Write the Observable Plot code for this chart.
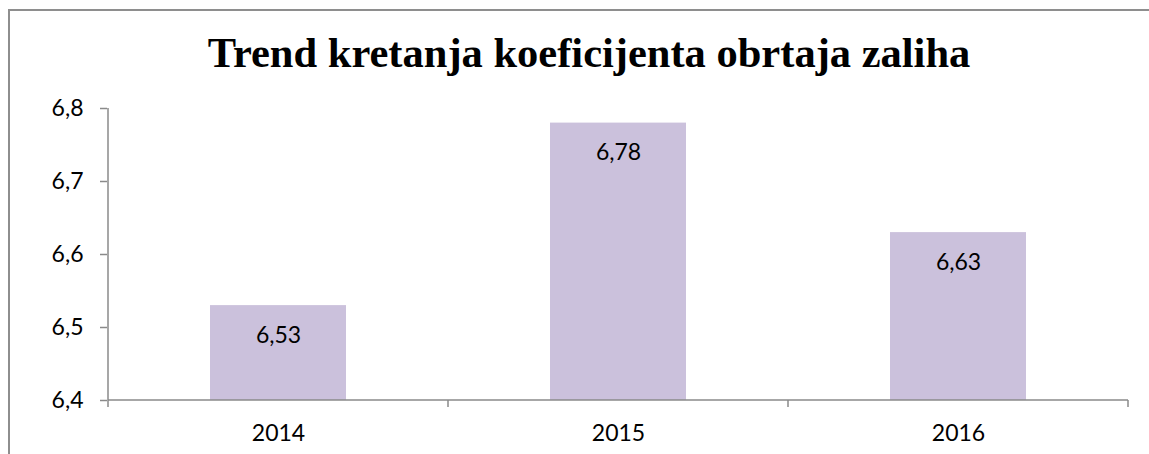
<!DOCTYPE html>
<html>
<head>
<meta charset="utf-8">
<script src="https://cdn.jsdelivr.net/npm/d3@7"></script>
<script src="https://cdn.jsdelivr.net/npm/@observablehq/plot@0.6"></script>
<style>
  html, body { margin: 0; padding: 0; background: #fff; width: 1149px; height: 454px; overflow: hidden; }
  #wrap { position: relative; width: 1149px; height: 454px; }
  #border { position: absolute; left: 8px; top: 9px; width: 1200px; height: 500px; border: 2px solid #8e8e8e; box-sizing: border-box; }
  #title { position: absolute; left: 0; width: 1178px; top: 32px; text-align: center; font-family: "Liberation Serif", "Times New Roman", serif; font-weight: bold; font-size: 42.5px; line-height: 1; color: #000; white-space: nowrap; }
  #chart { position: absolute; left: 0; top: 0; }
</style>
</head>
<body>
<div id="wrap">
  <div id="border"></div>
  <div id="chart"></div>
  <div id="title">Trend kretanja koeficijenta obrtaja zaliha</div>
</div>
<script>
const years = ["2014", "2015", "2016"];
const values = [6.53, 6.78, 6.63];
const yTicks = [6.4, 6.5, 6.6, 6.7, 6.8];
const yDomain = [6.4, 6.8];

const data = years.map((year, i) => ({year, value: values[i]}));
const fmt = v => d3.format(".2~f")(v).replace(".", ",");
const AXIS = "#8a8a8a";
const PAD_INNER = 0.6;

function axisLines(index, scales) {
  const x = scales.x, y = scales.y;
  const step = x(years[1]) - x(years[0]);
  const bw = typeof x.bandwidth === "function" ? x.bandwidth() : step * (1 - PAD_INNER);
  const start = x(years[0]) + bw / 2 - step / 2;
  const y0 = y(yDomain[0]), y1 = y(yDomain[1]);
  const g = d3.create("svg:g").attr("stroke", AXIS).attr("stroke-width", 1.5).attr("fill", "none");
  // y axis line
  g.append("line").attr("x1", start).attr("x2", start).attr("y1", y1).attr("y2", y0 + 7);
  // x axis line
  g.append("line").attr("x1", start).attr("x2", start + step * years.length).attr("y1", y0).attr("y2", y0);
  // category boundary ticks
  for (let i = 1; i <= years.length; ++i) {
    const bx = start + i * step;
    g.append("line").attr("x1", bx).attr("x2", bx).attr("y1", y0).attr("y2", y0 + 7);
  }
  return g.node();
}

const chart = Plot.plot({
  width: 1149,
  height: 454,
  marginLeft: 107,
  marginRight: 21,
  marginTop: 108,
  marginBottom: 54,
  style: {fontFamily: "Lato, 'Open Sans', sans-serif", fontSize: "23px", color: "#000", background: "transparent"},
  x: {domain: years, paddingInner: PAD_INNER, paddingOuter: 0.3, label: null},
  y: {domain: yDomain, label: null},
  marks: [
    Plot.barY(data, {x: "year", y1: yDomain[0], y2: "value", fill: "#CBC1DC"}),
    Plot.text(data, {x: "year", y: "value", text: d => fmt(d.value), dy: 30, lineAnchor: "middle", fontSize: 23, fill: "#000"}),
    Plot.axisY({ticks: yTicks, tickFormat: fmt, tickSize: 7, tickPadding: 17, stroke: AXIS, strokeWidth: 1.5, fill: "#000", fontSize: 23, label: null}),
    Plot.axisX({tickSize: 0, tickPadding: 24, fill: "#000", fontSize: 23, label: null}),
    axisLines
  ]
});
document.getElementById("chart").appendChild(chart);
</script>
</body>
</html>
